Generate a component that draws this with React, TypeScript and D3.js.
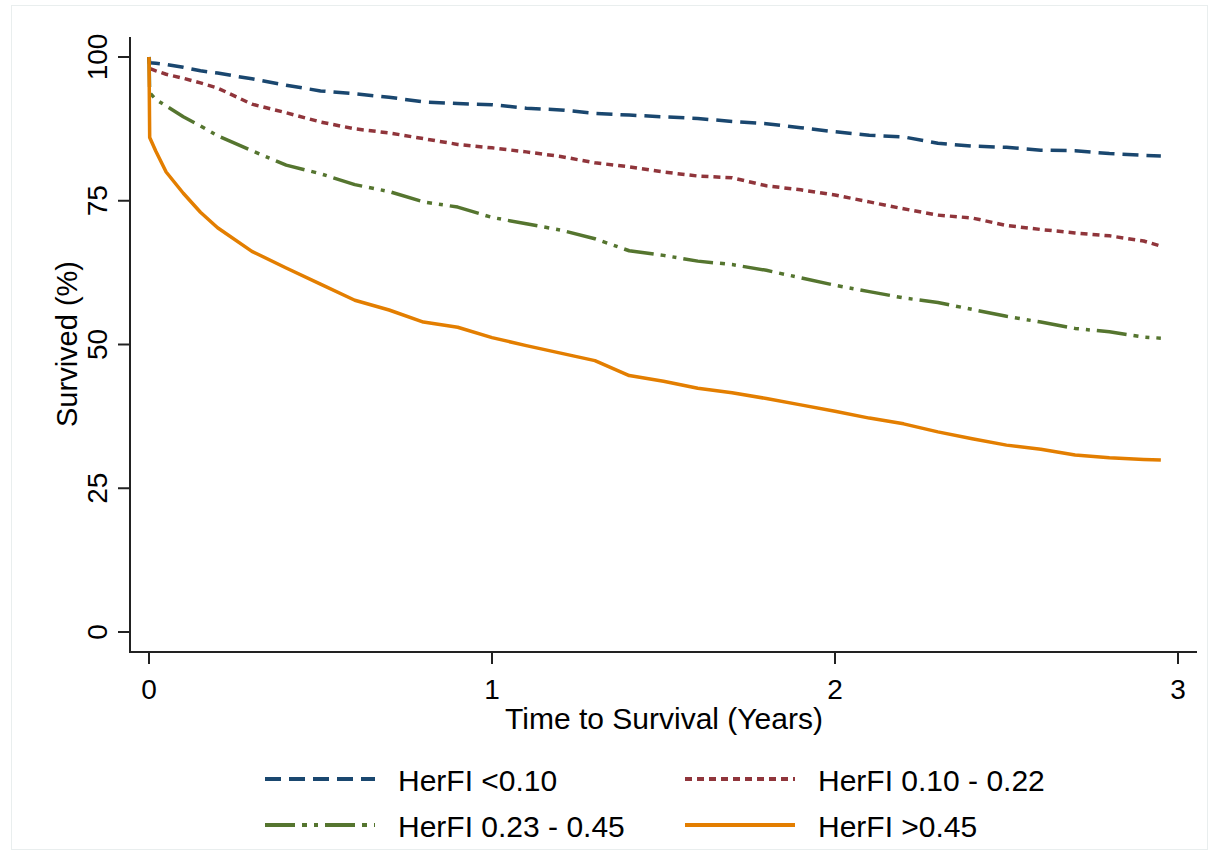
import React, { useEffect, useRef } from "react";
import * as d3 from "d3";

// follow-up time (years), shared by all four groups
const years = [
  0, 0.002, 0.02, 0.05, 0.1, 0.15, 0.2, 0.3, 0.4, 0.5, 0.6, 0.7, 0.8, 0.9, 1.0,
  1.1, 1.2, 1.3, 1.4, 1.5, 1.6, 1.7, 1.8, 1.9, 2.0, 2.1, 2.2, 2.3, 2.4, 2.5,
  2.6, 2.7, 2.8, 2.9, 2.95,
];

const herfiLow = [
  100, 99.0, 98.9, 98.7, 98.2, 97.6, 97.2, 96.2, 95.1, 94.1, 93.6, 93.0, 92.2,
  91.9, 91.7, 91.1, 90.8, 90.2, 89.9, 89.6, 89.3, 88.8, 88.4, 87.7, 87.0, 86.4,
  86.1, 85.0, 84.5, 84.3, 83.8, 83.7, 83.2, 82.9, 82.8,
];
const herfiMidLow = [
  100, 98.0, 97.6, 97.0, 96.3, 95.5, 94.6, 91.8, 90.3, 88.7, 87.5, 86.8, 85.8,
  84.8, 84.2, 83.5, 82.7, 81.6, 80.9, 80.0, 79.3, 79.0, 77.6, 76.9, 76.0, 74.8,
  73.6, 72.5, 72.0, 70.7, 70.0, 69.4, 68.9, 68.0, 67.1,
];
const herfiMidHigh = [
  100, 93.8, 92.6, 91.5, 89.6, 88.0, 86.3, 83.7, 81.2, 79.7, 77.8, 76.6, 74.8,
  73.9, 72.1, 71.0, 69.9, 68.4, 66.3, 65.5, 64.5, 63.9, 62.9, 61.6, 60.3, 59.2,
  58.1, 57.3, 56.1, 54.9, 53.9, 52.8, 52.2, 51.3, 51.1,
];
const herfiHigh = [
  100, 86.0, 83.6, 80.0, 76.3, 73.0, 70.3, 66.2, 63.3, 60.5, 57.7, 56.0, 53.9,
  53.0, 51.2, 49.8, 48.5, 47.2, 44.6, 43.6, 42.4, 41.6, 40.6, 39.5, 38.4, 37.2,
  36.2, 34.8, 33.6, 32.5, 31.8, 30.8, 30.3, 30.0, 29.9,
];

const xTicks = [0, 1, 2, 3];
const yTicks = [0, 25, 50, 75, 100];

const groups = [
  { label: "HerFI <0.10", values: herfiLow, color: "#1a476f", dash: "16 8" },
  { label: "HerFI 0.10 - 0.22", values: herfiMidLow, color: "#90353b", dash: "7 5" },
  { label: "HerFI 0.23 - 0.45", values: herfiMidHigh, color: "#55752f", dash: "30 7 5 7 4 7" },
  { label: "HerFI >0.45", values: herfiHigh, color: "#e37e00", dash: null },
];

const W = 1208;
const H = 854;

const App = () => {
  const ref = useRef(null);

  useEffect(() => {
    const svg = d3.select(ref.current);
    svg.selectAll("*").remove();

    const font = "Arial, 'Liberation Sans', sans-serif";
    const x = d3.scaleLinear().domain([0, 3]).range([149, 1178]);
    const y = d3.scaleLinear().domain([0, 100]).range([632, 57]);

    // faint outer frame
    svg
      .append("rect")
      .attr("x", 11.5)
      .attr("y", 5.5)
      .attr("width", 1196)
      .attr("height", 844)
      .attr("fill", "white")
      .attr("stroke", "#e9eeee");

    // y axis
    const yAxis = svg.append("g");
    yAxis
      .append("line")
      .attr("x1", 130)
      .attr("x2", 130)
      .attr("y1", 37)
      .attr("y2", 653)
      .attr("stroke", "#222")
      .attr("stroke-width", 2);
    yAxis
      .selectAll(".ytick")
      .data(yTicks)
      .enter()
      .append("line")
      .attr("x1", 118)
      .attr("x2", 130)
      .attr("y1", (d) => y(d))
      .attr("y2", (d) => y(d))
      .attr("stroke", "#222")
      .attr("stroke-width", 2);
    yAxis
      .selectAll(".ylab")
      .data(yTicks)
      .enter()
      .append("text")
      .attr("transform", (d) => `translate(107,${y(d)}) rotate(-90)`)
      .attr("text-anchor", "middle")
      .attr("font-family", font)
      .attr("font-size", 28)
      .text((d) => d);

    svg
      .append("text")
      .attr("transform", "translate(77,344) rotate(-90)")
      .attr("text-anchor", "middle")
      .attr("font-family", font)
      .attr("font-size", 29)
      .text("Survived (%)");

    // x axis
    const xAxis = svg.append("g");
    xAxis
      .append("line")
      .attr("x1", 129)
      .attr("x2", 1197)
      .attr("y1", 652)
      .attr("y2", 652)
      .attr("stroke", "#222")
      .attr("stroke-width", 2);
    xAxis
      .selectAll(".xtick")
      .data(xTicks)
      .enter()
      .append("line")
      .attr("x1", (d) => x(d))
      .attr("x2", (d) => x(d))
      .attr("y1", 652)
      .attr("y2", 664)
      .attr("stroke", "#222")
      .attr("stroke-width", 2);
    xAxis
      .selectAll(".xlab")
      .data(xTicks)
      .enter()
      .append("text")
      .attr("x", (d) => x(d))
      .attr("y", 699)
      .attr("text-anchor", "middle")
      .attr("font-family", font)
      .attr("font-size", 28)
      .text((d) => d);

    svg
      .append("text")
      .attr("x", 664)
      .attr("y", 729)
      .attr("text-anchor", "middle")
      .attr("font-family", font)
      .attr("font-size", 30)
      .text("Time to Survival (Years)");

    // survival curves
    const line = d3
      .line()
      .x((d) => x(d[0]))
      .y((d) => y(d[1]));

    groups.forEach((g) => {
      const pts = years.map((t, i) => [t, g.values[i]]);
      svg
        .append("path")
        .attr("d", line(pts))
        .attr("fill", "none")
        .attr("stroke", g.color)
        .attr("stroke-width", 3.5)
        .attr("stroke-dasharray", g.dash)
        .attr("stroke-linejoin", "round");
    });

    // legend, 2 columns
    const leg = svg
      .selectAll(".leg")
      .data(groups)
      .enter()
      .append("g")
      .attr(
        "transform",
        (d, i) => `translate(${i % 2 === 0 ? 265 : 685},${i < 2 ? 779 : 825})`
      );
    leg
      .append("line")
      .attr("x1", 0)
      .attr("x2", 110)
      .attr("stroke", (d) => d.color)
      .attr("stroke-width", 4)
      .attr("stroke-dasharray", (d) => d.dash);
    leg
      .append("text")
      .attr("x", 133)
      .attr("y", 12)
      .attr("font-family", font)
      .attr("font-size", 30)
      .text((d) => d.label);
  }, []);

  return (
    <svg
      ref={ref}
      width={W}
      height={H}
      style={{ position: "absolute", left: 0, top: 0 }}
    ></svg>
  );
};

export default App;
